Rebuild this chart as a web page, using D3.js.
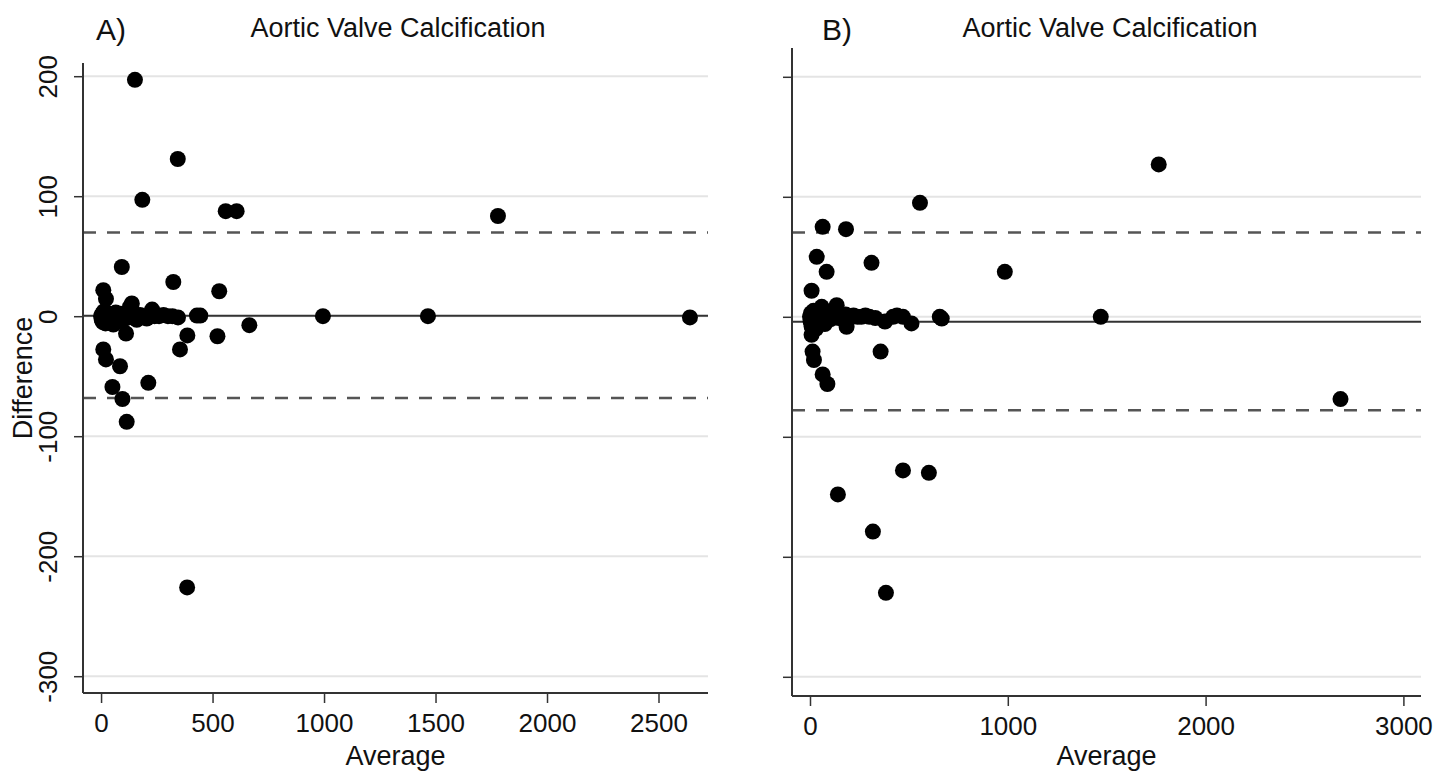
<!DOCTYPE html>
<html>
<head>
<meta charset="utf-8">
<script src="https://cdn.jsdelivr.net/npm/d3@7"></script>
<style>
    body { margin: 0; background: #fff; }
    text { font-family: "Liberation Sans", Arial, sans-serif; fill: #111; }
</style>
</head>
<body>
<div id="chart"></div>
<script>
// panel A: average / difference
const aAverage = [152, 344, 185, 559, 608, 93, 1780, 324, 530, 10, 22, 138, 229, 130,
    995, 1466, 2641, 665, 387, 522, 354, 112, 10, 22, 85, 51, 212, 96, 115, 386,
    0, 3, 5, 8, 10, 12, 15, 18, 20, 25, 28, 32, 36, 40, 45, 50, 55, 60, 66, 72, 80,
    88, 95, 105, 115, 125, 135, 145, 160, 175, 190, 205, 220, 240, 260, 280, 300, 320, 345, 430, 445];
const aDifference = [197, 131, 97, 87.5, 87.5, 41, 83.5, 28.5, 20.8, 21.7, 14.5, 10.6, 5.5, 8,
    0, 0, -1, -7.5, -16, -16.7, -27.7, -14.4, -27.7, -36, -41.7, -59, -55.5, -69, -88, -226,
    0, -3, 2, -5, 0, 4, -2, 1, -6, 3, -1, -4, 0, 2, -3, 1, -7, 0, 3, -2, 0,
    2, -4, 0, 3, -1, 6, 0, -3, 1, 0, -2, 1, 0, 0, 1, 0, 0, -1, 0.5, 0.5];
const aLimits = [69.7, -68.2];
const aMean = 0.4;

// panel B: average / difference
const bAverage = [556, 64, 182, 34, 84, 311, 985, 8, 135, 59, 1763, 1470, 656, 666, 513, 379,
    185, 357, 8, 13, 20, 64, 88, 2682, 470, 601, 141, 318, 384,
    0, 3, 5, 8, 10, 14, 18, 22, 26, 30, 35, 40, 46, 52, 60, 68, 75, 85, 95, 105, 115,
    130, 145, 160, 180, 200, 220, 240, 260, 280, 300, 330, 420, 440, 470];
const bDifference = [95, 75, 73, 50, 37.5, 45, 37.5, 21.7, 9.7, 8.3, 127, 0, 0, -1.5, -5.5, -4,
    -8.3, -29, -15, -29, -36, -48, -56, -68.6, -128, -130, -148, -179, -230,
    0, -4, 3, -8, 2, -2, 5, -5, 0, -10, 3, -3, 0, 4, -2, 1, -6, 0, 3, -2, 1,
    0, -1, 0, 2, 0, 1, 0, 0, 1, 0, -1, 0, 1, 0];
const bLimits = [70.3, -77.8];
const bMean = -4.2;

const yTicks = [200, 100, 0, -100, -200, -300];
const aXTicks = [0, 500, 1000, 1500, 2000, 2500];
const bXTicks = [0, 1000, 2000, 3000];

const width = 1455, height = 775;
const svg = d3.select('#chart').append('svg')
    .attr('width', width)
    .attr('height', height);

function drawPanel(cfg) {
    const x = d3.scaleLinear().domain(cfg.xDomain).range(cfg.xRange);
    const y = d3.scaleLinear().domain(cfg.yDomain).range(cfg.yRange);
    const g = svg.append('g');

    // grid
    g.selectAll('.grid').data(yTicks).enter().append('line')
        .attr('x1', cfg.xRange[0]).attr('x2', cfg.xRange[1])
        .attr('y1', d => y(d)).attr('y2', d => y(d))
        .attr('stroke', '#e4e4e4').attr('stroke-width', 2);

    // limits of agreement + mean
    g.selectAll('.lim').data(cfg.limits).enter().append('line')
        .attr('x1', cfg.xRange[0]).attr('x2', cfg.xRange[1])
        .attr('y1', d => y(d)).attr('y2', d => y(d))
        .attr('stroke', '#555').attr('stroke-width', 2.5)
        .attr('stroke-dasharray', '13,11');
    g.append('line')
        .attr('x1', cfg.xRange[0]).attr('x2', cfg.xRange[1])
        .attr('y1', y(cfg.mean)).attr('y2', y(cfg.mean))
        .attr('stroke', '#333').attr('stroke-width', 2);

    // axes
    const xAxis = d3.axisBottom(x).tickValues(cfg.xTicks).tickSize(10)
        .tickFormat(d => String(d));
    const yAxis = d3.axisLeft(y).tickValues(yTicks).tickSize(9)
        .tickFormat(d => String(d));
    const xg = g.append('g')
        .attr('transform', 'translate(0,' + cfg.yRange[1] + ')')
        .call(xAxis);
    const yg = g.append('g')
        .attr('transform', 'translate(' + cfg.xRange[0] + ',0)')
        .call(yAxis);

    [xg, yg].forEach(a => {
        a.select('.domain').attr('stroke', '#333').attr('stroke-width', 2)
            .attr('d', a === xg
                ? 'M' + cfg.xRange[0] + ',0H' + cfg.xRange[1]
                : 'M0,' + cfg.yRange[0] + 'V' + cfg.yRange[1]);
        a.selectAll('.tick line').attr('stroke', '#333').attr('stroke-width', 1.5);
    });
    xg.selectAll('text').attr('font-size', 26).attr('font-family', null).attr('fill', '#111')
        .attr('dy', null).attr('y', 39);

    if (cfg.yLabels) {
        yg.selectAll('text')
            .attr('font-size', 26).attr('font-family', null).attr('fill', '#111')
            .attr('text-anchor', 'middle')
            .attr('x', null).attr('dy', null)
            .attr('transform', 'translate(-26,0) rotate(-90)')
            .attr('y', 0);
    } else {
        yg.selectAll('text').remove();
    }

    // points
    g.selectAll('.dot').data(cfg.avg).enter().append('circle')
        .attr('cx', d => x(d))
        .attr('cy', (d, i) => y(cfg.diff[i]))
        .attr('r', 8)
        .attr('fill', '#000');

    // titles
    const cx = (cfg.xRange[0] + cfg.xRange[1]) / 2;
    svg.append('text').attr('x', cx).attr('y', 765)
        .attr('text-anchor', 'middle').attr('font-size', 27).text('Average');
    svg.append('text').attr('x', cfg.titleX).attr('y', 37)
        .attr('text-anchor', 'middle').attr('font-size', 27).text('Aortic Valve Calcification');
    svg.append('text').attr('x', cfg.tagX).attr('y', 40)
        .attr('font-size', 30).text(cfg.tag);
}

drawPanel({
    avg: aAverage, diff: aDifference, limits: aLimits, mean: aMean,
    xDomain: [-81, 2722], xRange: [83, 708],
    yDomain: [211, -314], yRange: [63, 693],
    xTicks: aXTicks, yLabels: true,
    titleX: 398, tagX: 96, tag: 'A)'
});

drawPanel({
    avg: bAverage, diff: bDifference, limits: bLimits, mean: bMean,
    xDomain: [-91, 3089], xRange: [792, 1421],
    yDomain: [224, -316], yRange: [48, 696],
    xTicks: bXTicks, yLabels: false,
    titleX: 1110, tagX: 822, tag: 'B)'
});

svg.append('text')
    .attr('transform', 'translate(32,' + (63 + 693) / 2 + ') rotate(-90)')
    .attr('text-anchor', 'middle').attr('font-size', 27)
    .text('Difference');
</script>
</body>
</html>
